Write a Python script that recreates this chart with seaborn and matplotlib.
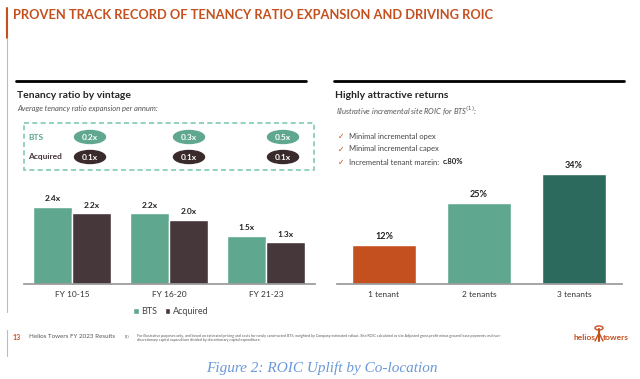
import pandas as pd
import matplotlib.pyplot as plt
import seaborn as sns
from matplotlib.patches import Ellipse, Rectangle

# data
vintages = ["FY 10-15", "FY 16-20", "FY 21-23"]
bts_ratio = [2.4, 2.2, 1.5]
acq_ratio = [2.2, 2.0, 1.3]
bts_expansion = ["0.2x", "0.3x", "0.5x"]
acq_expansion = ["0.1x", "0.1x", "0.1x"]

tenants = ["1 tenant", "2 tenants", "3 tenants"]
roic = [12, 25, 34]

bullets = ["Minimal incremental opex", "Minimal incremental capex",
           "Incremental tenant margin: "]

ORANGE = "#C5501F"
TEAL = "#5FA88F"
DARK = "#46383A"
DKTEAL = "#2D6A5E"
TXT = "#333333"

sns.set_theme(style="white")
plt.rcParams["font.family"] = ["Lato", "DejaVu Sans"]

fig = plt.figure(figsize=(6.4, 3.79), dpi=100)

# background layer in pixel units
bg = fig.add_axes([0, 0, 1, 1])
bg.set_xlim(0, 640)
bg.set_ylim(379, 0)
bg.axis("off")

# title + left border
bg.text(13, 15, "PROVEN TRACK RECORD OF TENANCY RATIO EXPANSION AND DRIVING ROIC",
        color=ORANGE, fontsize=9.3, fontweight="bold", va="center", ha="left")
bg.plot([7, 7], [8, 38], color=ORANGE, lw=1.5)
bg.plot([7, 7], [38, 312], color="#BBBBBB", lw=0.8)
bg.plot([7, 7], [330, 356], color="#BBBBBB", lw=0.8)

# section rules and headings
bg.plot([16, 306], [81, 81], color="black", lw=2)
bg.plot([334, 624], [81, 81], color="black", lw=2)
bg.text(17, 96, "Tenancy ratio by vintage", fontsize=7.5, fontweight="bold", va="center")
bg.text(17, 109, "Average tenancy ratio expansion per annum:", fontsize=5.5,
        style="italic", color="#555555", va="center")
bg.text(335, 96, "Highly attractive returns", fontsize=7.5, fontweight="bold", va="center")
bg.text(336, 111, "Illustrative incremental site ROIC for BTS$^{(1)}$:", fontsize=5.5,
        style="italic", color="#555555", va="center")

# dashed box with pills
bg.add_patch(Rectangle((24, 123), 290, 47, fill=False, ls=(0, (3, 2)),
                       ec="#7FCAB6", lw=1.2))
bg.text(28, 137, "BTS", color=TEAL, fontsize=6, fontweight="bold", va="center")
bg.text(28, 157, "Acquired", color=DARK, fontsize=6, fontweight="bold", va="center")
for px, b, a in zip([90, 189, 283], bts_expansion, acq_expansion):
    bg.add_patch(Ellipse((px, 137), 31, 13, color=TEAL))
    bg.add_patch(Ellipse((px, 157), 31, 13, color="#3A2A2B"))
    bg.text(px, 137, b, color="white", fontsize=6, fontweight="bold", ha="center", va="center")
    bg.text(px, 157, a, color="white", fontsize=6, fontweight="bold", ha="center", va="center")

# bullets
for i, b in enumerate(bullets):
    y = 136 + i * 13
    bg.text(338, y, "\u2713", color=ORANGE, fontsize=5.5, va="center",
            family=["DejaVu Sans"])
    t = bg.text(349, y, b, color="#444444", fontsize=5.5, va="center")
bg.annotate("c.80%", xy=(1, 0.5), xycoords=t, xytext=(1, 0), textcoords="offset points",
            color="#222222", fontsize=5.5, fontweight="bold", va="center")

# footer
bg.text(13, 337, "13", color=ORANGE, fontsize=5, fontweight="bold", va="center")
bg.text(29, 337, "Helios Towers FY 2023 Results", color="#555555", fontsize=4.5, va="center")
bg.text(125, 336, "(1)", color="#555555", fontsize=3, va="center")
bg.text(137, 336, "For illustrative purposes only, and based on estimated pricing and costs for newly "
        "constructed BTS, weighted by Company estimated rollout. Site ROIC calculated as site Adjusted "
        "gross profit minus ground lease payments and non-", color="#555555", fontsize=2.6, va="center")
bg.text(137, 340, "discretionary capital expenditure divided by discretionary capital expenditure.",
        color="#555555", fontsize=2.6, va="center")
bg.text(595, 338, "helios", color=ORANGE, fontsize=6, ha="right", va="center", fontweight="bold")
bg.text(603, 338, "towers", color=ORANGE, fontsize=6, ha="left", va="center", fontweight="bold")
bg.plot([599, 599], [329, 341], color=ORANGE, lw=1.5)
bg.plot([595, 599, 603], [341, 333, 341], color=ORANGE, lw=1)
bg.add_patch(Ellipse((599, 328), 8, 4, fill=False, ec=ORANGE, lw=1))

# caption
bg.text(322, 368, "Figure 2: ROIC Uplift by Co-location", color="#6A98D8",
        fontsize=11, style="italic", ha="center", va="center",
        family=["Liberation Serif", "DejaVu Serif"])

# left chart
df = pd.DataFrame({
    "vintage": vintages * 2,
    "ratio": bts_ratio + acq_ratio,
    "type": ["BTS"] * 3 + ["Acquired"] * 3,
})
ax1 = fig.add_axes([23.5 / 640, (379 - 284) / 379, 291 / 640, 89 / 379])
sns.barplot(data=df, x="vintage", y="ratio", hue="type", palette=[TEAL, DARK],
            width=0.8, saturation=1, ax=ax1)
ax1.set_ylim(0, 2.76)
ax1.set_xlim(-0.5, 2.5)
for c in ax1.containers:
    ax1.bar_label(c, labels=[f"{v:.1f}x" for v in c.datavalues], padding=3,
                  fontsize=6, fontweight="bold", color="#222222")
ax1.set_xlabel("")
ax1.set_ylabel("")
ax1.set_yticks([])
sns.despine(ax=ax1, left=True)
ax1.spines["bottom"].set_color("#999999")
ax1.tick_params(axis="x", labelsize=6, colors=TXT, length=0, pad=5)
ax1.legend(loc="upper center", bbox_to_anchor=(0.507, -0.17), ncol=2, frameon=False,
           fontsize=6.5, handlelength=0.6, handleheight=0.6, handletextpad=0.3,
           columnspacing=0.8, labelcolor="#444444")

# right chart
ax2 = fig.add_axes([336.5 / 640, (379 - 284) / 379, 285 / 640, 119 / 379])
sns.barplot(x=tenants, y=roic, hue=tenants, palette=[ORANGE, TEAL, DKTEAL],
            width=0.67, saturation=1, legend=False, ax=ax2)
ax2.set_ylim(0, 36.8)
ax2.set_xlim(-0.5, 2.5)
for c in ax2.containers:
    ax2.bar_label(c, labels=[f"{v:.0f}%" for v in c.datavalues], padding=3,
                  fontsize=6.5, fontweight="bold", color="#222222")
ax2.set_yticks([])
sns.despine(ax=ax2, left=True)
ax2.spines["bottom"].set_color("#999999")
ax2.tick_params(axis="x", labelsize=6, colors=TXT, length=0, pad=5)

plt.savefig("out.png", dpi=100)
